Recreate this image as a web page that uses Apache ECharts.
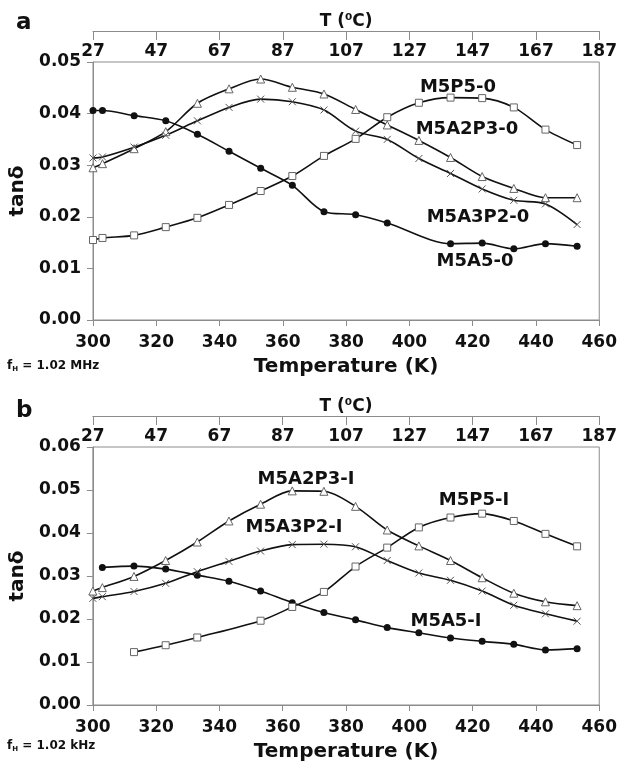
<!DOCTYPE html>
<html>
<head>
<meta charset="utf-8">
<script src="https://cdn.jsdelivr.net/npm/echarts@6/dist/echarts.min.js"></script>
<style>
html,body{margin:0;padding:0;background:#fff;}
#chart{width:620px;height:763px;}
</style>
</head>
<body>
<div id="chart"></div>
<script>
// x axis ticks (K) and top axis offset to deg C
const kTicks = [300, 320, 340, 360, 380, 400, 420, 440, 460];
const cOffset = 27;

// panel a, f = 1.02 MHz
const aK_M5A5 = [300, 303, 313, 323, 333, 343, 353, 363, 373, 383, 393, 413, 423, 433, 443, 453];
const aV_M5A5 = [0.0406, 0.0406, 0.0396, 0.0386, 0.0360, 0.0327, 0.0294, 0.0261, 0.0210, 0.0204, 0.0188, 0.0148, 0.0149, 0.0138, 0.0148, 0.0143];
const aK_M5P5 = [300, 303, 313, 323, 333, 343, 353, 363, 373, 383, 393, 403, 413, 423, 433, 443, 453];
const aV_M5P5 = [0.0155, 0.0159, 0.0164, 0.0180, 0.0198, 0.0223, 0.0250, 0.0279, 0.0318, 0.0351, 0.0393, 0.0421, 0.0431, 0.0430, 0.0412, 0.0369, 0.0339];
const aK_M5A2P3 = [300, 303, 313, 323, 333, 343, 353, 363, 373, 383, 393, 403, 413, 423, 433, 443, 453];
const aV_M5A2P3 = [0.0295, 0.0303, 0.0332, 0.0365, 0.0420, 0.0448, 0.0467, 0.0451, 0.0438, 0.0408, 0.0378, 0.0348, 0.0315, 0.0278, 0.0255, 0.0237, 0.0237];
const aK_M5A3P2 = [300, 303, 313, 323, 333, 343, 353, 363, 373, 383, 393, 403, 413, 423, 433, 443, 453];
const aV_M5A3P2 = [0.0314, 0.0316, 0.0335, 0.0358, 0.0386, 0.0412, 0.0428, 0.0423, 0.0407, 0.0366, 0.0350, 0.0313, 0.0284, 0.0254, 0.0232, 0.0225, 0.0185];

// panel b, f = 1.02 kHz
const bK_M5A5 = [303, 313, 323, 333, 343, 353, 363, 373, 383, 393, 403, 413, 423, 433, 443, 453];
const bV_M5A5 = [0.0320, 0.0323, 0.0316, 0.0302, 0.0288, 0.0265, 0.0238, 0.0215, 0.0198, 0.0180, 0.0168, 0.0156, 0.0148, 0.0141, 0.0128, 0.0131];
const bK_M5P5 = [313, 323, 333, 353, 363, 373, 383, 393, 403, 413, 423, 433, 443, 453];
const bV_M5P5 = [0.0123, 0.0139, 0.0157, 0.0196, 0.0228, 0.0263, 0.0322, 0.0366, 0.0413, 0.0436, 0.0445, 0.0428, 0.0398, 0.0369];
const bK_M5A2P3 = [300, 303, 313, 323, 333, 343, 353, 363, 373, 383, 393, 403, 413, 423, 433, 443, 453];
const bV_M5A2P3 = [0.0265, 0.0273, 0.0299, 0.0336, 0.0379, 0.0428, 0.0467, 0.0498, 0.0497, 0.0462, 0.0407, 0.0370, 0.0336, 0.0296, 0.0260, 0.0240, 0.0231];
const bK_M5A3P2 = [300, 303, 313, 323, 333, 343, 353, 363, 373, 383, 393, 403, 413, 423, 433, 443, 453];
const bV_M5A3P2 = [0.0248, 0.0252, 0.0264, 0.0283, 0.0310, 0.0334, 0.0358, 0.0373, 0.0374, 0.0368, 0.0336, 0.0307, 0.0290, 0.0265, 0.0232, 0.0212, 0.0195];

const FONT = 'DejaVu Sans';
const AXIS_GRAY = '#8c8c8c';
const INK = '#111';

const lblStyle = {color: INK, fontSize: 17, fontWeight: 'bold', fontFamily: FONT};
const nameStyle = {color: INK, fontSize: 20, fontWeight: 'bold', fontFamily: FONT};

const marks = {
    circle: {symbol: 'circle', symbolSize: 7, itemStyle: {color: INK}},
    square: {symbol: 'rect', symbolSize: 7, itemStyle: {color: '#fff', borderColor: '#666', borderWidth: 1}},
    triangle: {symbol: 'triangle', symbolSize: 8, itemStyle: {color: '#fff', borderColor: '#666', borderWidth: 1}},
    cross: {symbol: 'path://M0,0L10,10M10,0L0,10', symbolSize: 7, itemStyle: {color: 'none', borderColor: '#555', borderWidth: 1}}
};

function zip(k, v) {
    return k.map((x, i) => [x, v[i]]);
}

function line(gi, name, k, v, mark) {
    return Object.assign({
        name: name,
        type: 'line',
        xAxisIndex: gi * 2,
        yAxisIndex: gi,
        data: zip(k, v),
        smooth: 0.3,
        showAllSymbol: true,
        lineStyle: {color: INK, width: 1.6},
        z: 3
    }, marks[mark]);
}

function bottomAxis(gi) {
    return {
        gridIndex: gi,
        type: 'value',
        min: kTicks[0],
        max: kTicks[kTicks.length - 1],
        interval: kTicks[1] - kTicks[0],
        axisLine: {lineStyle: {color: AXIS_GRAY}},
        axisTick: {length: 6, lineStyle: {color: AXIS_GRAY}},
        axisLabel: Object.assign({margin: 14}, lblStyle),
        splitLine: {show: false},
        name: 'Temperature (K)',
        nameLocation: 'middle',
        nameGap: 37,
        nameTextStyle: nameStyle
    };
}

function topAxis(gi) {
    return {
        gridIndex: gi,
        type: 'value',
        position: 'top',
        offset: 31,
        min: 0,
        max: kTicks[kTicks.length - 1] - kTicks[0],
        interval: kTicks[1] - kTicks[0],
        axisLine: {lineStyle: {color: AXIS_GRAY}},
        axisTick: {inside: true, length: 9, lineStyle: {color: AXIS_GRAY}},
        axisLabel: Object.assign({inside: true, margin: 12, formatter: v => v + cOffset}, lblStyle),
        splitLine: {show: false},
        name: 'T (⁰C)',
        nameLocation: 'middle',
        nameGap: 0,
        nameTextStyle: lblStyle
    };
}

function leftAxis(gi, ymax) {
    return {
        gridIndex: gi,
        type: 'value',
        min: 0,
        max: ymax,
        interval: 0.01,
        axisLine: {show: true, lineStyle: {color: AXIS_GRAY}},
        axisTick: {show: true, length: 6, lineStyle: {color: AXIS_GRAY}},
        axisLabel: Object.assign({margin: 12, formatter: v => v.toFixed(2)}, lblStyle),
        splitLine: {show: false},
        name: 'tanδ',
        nameLocation: 'middle',
        nameRotate: 90,
        nameGap: 58,
        nameTextStyle: nameStyle
    };
}

function tag(text, x, y) {
    return {
        type: 'text', x: x, y: y, z: 10,
        style: {text: text, fill: INK, font: 'bold 18px ' + FONT, align: 'center', verticalAlign: 'middle'}
    };
}

function freq(text, y) {
    return {
        type: 'text', x: 7, y: y, z: 10,
        style: {
            text: '{n|f}{s|H}{n| = ' + text + '}',
            fill: INK,
            verticalAlign: 'middle',
            rich: {
                n: {font: 'bold 12px ' + FONT, lineHeight: 14, verticalAlign: 'middle'},
                s: {font: 'bold 7px ' + FONT, lineHeight: 14, verticalAlign: 'bottom', padding: [5, 0, 0, 0]}
            }
        }
    };
}

const chart = echarts.init(document.getElementById('chart'), null, {renderer: 'canvas'});
chart.setOption({
    animation: false,
    backgroundColor: '#fff',
    grid: [
        {left: 93, right: 19, top: 62, height: 258, show: true, borderColor: AXIS_GRAY, borderWidth: 1},
        {left: 92, right: 20, top: 447, height: 258, show: true, borderColor: AXIS_GRAY, borderWidth: 1}
    ],
    xAxis: [bottomAxis(0), topAxis(0), bottomAxis(1), topAxis(1)],
    yAxis: [leftAxis(0, 0.05), leftAxis(1, 0.06)],
    series: [
        line(0, 'M5A5-0', aK_M5A5, aV_M5A5, 'circle'),
        line(0, 'M5P5-0', aK_M5P5, aV_M5P5, 'square'),
        line(0, 'M5A2P3-0', aK_M5A2P3, aV_M5A2P3, 'triangle'),
        line(0, 'M5A3P2-0', aK_M5A3P2, aV_M5A3P2, 'cross'),
        line(1, 'M5A5-I', bK_M5A5, bV_M5A5, 'circle'),
        line(1, 'M5P5-I', bK_M5P5, bV_M5P5, 'square'),
        line(1, 'M5A2P3-I', bK_M5A2P3, bV_M5A2P3, 'triangle'),
        line(1, 'M5A3P2-I', bK_M5A3P2, bV_M5A3P2, 'cross')
    ],
    graphic: [
        {type: 'text', x: 16, y: 12, style: {text: 'a', fill: INK, font: 'bold 23px ' + FONT}},
        {type: 'text', x: 16, y: 400, style: {text: 'b', fill: INK, font: 'bold 23px ' + FONT}},
        tag('M5P5-0', 458, 87),
        tag('M5A2P3-0', 467, 129),
        tag('M5A3P2-0', 478, 217),
        tag('M5A5-0', 475, 261),
        tag('M5A2P3-I', 306, 479),
        tag('M5A3P2-I', 294, 527),
        tag('M5P5-I', 474, 500),
        tag('M5A5-I', 446, 621),
        freq('1.02 MHz', 366),
        freq('1.02 kHz', 746)
    ]
});
</script>
</body>
</html>
